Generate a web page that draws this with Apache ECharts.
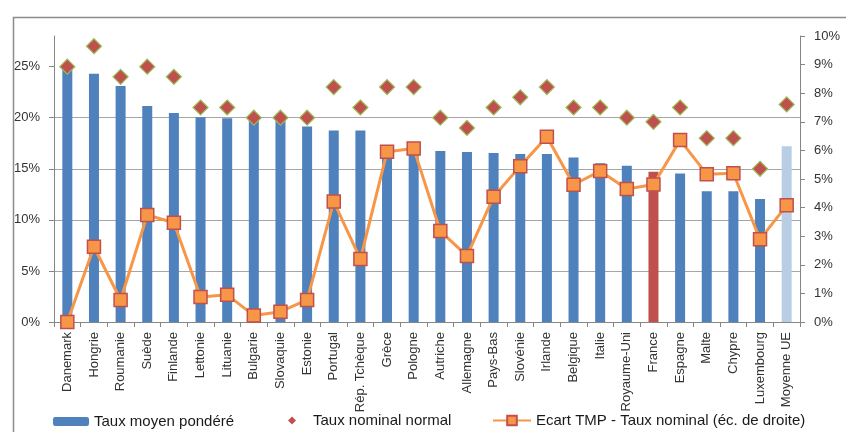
<!DOCTYPE html>
<html>
<head>
<meta charset="utf-8">
<script src="https://cdn.jsdelivr.net/npm/echarts@6/dist/echarts.min.js"></script>
<style>html,body{margin:0;padding:0;background:#fff}#c{width:846px;height:432px}</style>
</head>
<body>
<div id="c"></div>
<script>
const categories = ['Danemark','Hongrie','Roumanie','Suède','Finlande','Lettonie','Lituanie','Bulgarie','Slovaquie','Estonie','Portugal','Rép. Tchèque','Grèce','Pologne','Autriche','Allemagne','Pays-Bas','Slovénie','Irlande','Belgique','Italie','Royaume-Uni','France','Espagne','Malte','Chypre','Luxembourg','Moyenne UE'];
const tauxMoyen = [25.0,24.3,23.1,21.15,20.45,20.05,19.95,19.9,19.8,19.15,18.75,18.75,16.75,16.9,16.75,16.65,16.55,16.45,16.45,16.1,15.55,15.3,14.7,14.55,12.8,12.8,12.05,17.2];
const tauxNominal = [25,27,24,25,24,21,21,20,20,20,23,21,23,23,20,19,21,22,23,21,21,20,19.6,21,18,18,15,21.3];
const ecart = [0,2.63,0.77,3.74,3.47,0.87,0.95,0.23,0.36,0.77,4.21,2.2,5.95,6.07,3.18,2.31,4.38,5.45,6.48,4.8,5.28,4.65,4.81,6.36,5.17,5.2,2.89,4.08];
const leftTicks = [0,5,10,15,20,25];
const seriesNames = ['Taux moyen pondéré','Taux nominal normal','Ecart TMP - Taux nominal (éc. de droite)'];

const FONT = 'Liberation Sans';
const barColors = categories.map(c => c === 'France' ? '#C0504D' : (c === 'Moyenne UE' ? '#B9CDE5' : '#4F81BD'));

const chart = echarts.init(document.getElementById('c'));
chart.setOption({
  animation: false,
  textStyle: {fontFamily: FONT},
  graphic: [{
    type: 'rect', left: 11, top: 15, silent: true,
    shape: {x: 0, y: 0, width: 900, height: 500},
    style: {fill: 'none', stroke: '#8c8c8c', lineWidth: 1.5}
  }],
  grid: {left: 54, right: 46, top: 36, bottom: 110},
  legend: [
    {data: [seriesNames[0]], left: 48, top: 409, itemWidth: 36, itemHeight: 9, itemGap: 0,
     textStyle: {fontSize: 15, color: '#1a1a1a', fontFamily: FONT}},
    {data: [seriesNames[1]], left: 283, top: 408, itemWidth: 8, itemHeight: 8, itemGap: 0,
     itemStyle: {borderWidth: 0},
     textStyle: {fontSize: 15, color: '#1a1a1a', fontFamily: FONT, padding: [0,0,0,12]}},
    {data: [seriesNames[2]], left: 487, top: 408, itemWidth: 38, itemHeight: 12, itemGap: 0,
     textStyle: {fontSize: 15, color: '#1a1a1a', fontFamily: FONT}}
  ],
  xAxis: {
    type: 'category', data: categories,
    axisLine: {lineStyle: {color: '#868686'}},
    axisTick: {show: true, length: 5, lineStyle: {color: '#868686'}},
    axisLabel: {rotate: 90, fontSize: 13, color: '#333', margin: 10, interval: 0, fontFamily: FONT}
  },
  yAxis: [{
    type: 'value', min: 0, max: 28, interval: 5,
    axisLine: {show: true, lineStyle: {color: '#868686'}},
    axisTick: {show: true, length: 5, lineStyle: {color: '#868686'}, customValues: leftTicks},
    axisLabel: {fontSize: 13, color: '#333', margin: 14, fontFamily: FONT, customValues: leftTicks,
      formatter: v => v + '%'},
    splitLine: {show: true, showMaxLine: false, lineStyle: {color: '#a6a6a6', width: 1}}
  }, {
    type: 'value', min: 0, max: 10, interval: 1, position: 'right',
    axisLine: {show: true, lineStyle: {color: '#868686'}},
    axisTick: {show: true, length: 5, lineStyle: {color: '#868686'}},
    axisLabel: {fontSize: 13, color: '#333', margin: 14, fontFamily: FONT, formatter: v => v + '%'},
    splitLine: {show: false}
  }],
  series: [{
    name: seriesNames[0], type: 'bar', yAxisIndex: 0, barWidth: 10,
    itemStyle: {color: '#4F81BD'},
    data: tauxMoyen.map((v, i) => ({value: v, itemStyle: {color: barColors[i]}}))
  }, {
    name: seriesNames[1], type: 'scatter', yAxisIndex: 0, symbol: 'diamond', symbolSize: 15, z: 3,
    itemStyle: {color: '#C0504D', borderColor: '#9BBB59', borderWidth: 1.2, opacity: 1},
    data: tauxNominal
  }, {
    name: seriesNames[2], type: 'line', yAxisIndex: 1, symbol: 'rect', symbolSize: 13, z: 4,
    lineStyle: {color: '#F79646', width: 3},
    itemStyle: {color: '#F79646', borderColor: '#C0504D', borderWidth: 1.5},
    data: ecart
  }]
});
</script>
</body>
</html>
